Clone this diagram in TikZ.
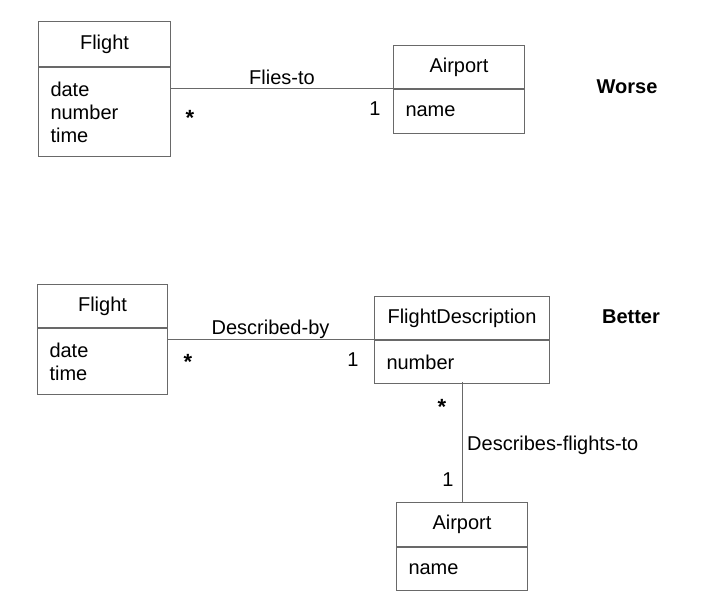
\documentclass[tikz,border=0pt]{standalone}
\usepackage{fontspec}
\setmainfont{Liberation Sans}
\newcommand\diafs{\fontsize{20}{23}\selectfont}
\definecolor{linec}{RGB}{105,105,105}
\begin{document}
\begin{tikzpicture}[x=1pt,y=-1pt,
  hdr/.style={draw=linec, line width=1pt, inner sep=0pt, anchor=north west, font=\diafs},
  attrs/.style={draw=linec, line width=1pt, inner xsep=12pt, inner ysep=0pt, anchor=north west, align=left, font=\diafs},
  conn/.style={draw=linec, line width=1pt},
  lbl/.style={font=\diafs, inner sep=0pt},
  star/.style={font=\fontsize{22}{24}\selectfont\bfseries, inner sep=0pt},
  ttl/.style={font=\diafs\bfseries, inner sep=0pt}]
\useasboundingbox (0,0) rectangle (715,601);
% ---- Worse ----
\node[hdr, minimum width=132pt, minimum height=45pt] (f1h) at (38,21) {Flight};
\node[attrs, minimum width=132pt, minimum height=89pt, text width=108pt] (f1b) at (f1h.south west) {date\\number\\time};
\node[hdr, minimum width=131pt, minimum height=43pt] (a1h) at (393,45) {Airport};
\node[attrs, minimum width=131pt, minimum height=44pt, text width=107pt] (a1b) at (a1h.south west) {name};
\draw[conn] (a1h.south west -| f1b.east) -- (a1h.south west);
\node[lbl] (l1) at (282,77) {Flies-to};
\node[star] (m1a) at (190,118) {*};
\node[lbl] (m1b) at (375,109) {1};
\node[ttl] (worse) at (627,87) {Worse};
% ---- Better ----
\node[hdr, minimum width=130pt, minimum height=43pt] (f2h) at (37,284) {Flight};
\node[attrs, minimum width=130pt, minimum height=66pt, text width=106pt] (f2b) at (f2h.south west) {date\\time};
\node[hdr, minimum width=175pt, minimum height=43pt] (fdh) at (374,296) {FlightDescription};
\node[attrs, minimum width=175pt, minimum height=43pt, text width=151pt] (fdb) at (fdh.south west) {number};
\draw[conn] (fdh.south west -| f2b.east) -- (fdh.south west);
\node[lbl] (l2) at (270.5,329) {Described-by};
\node[star] (m2a) at (188,362) {*};
\node[lbl] (m2b) at (353,360) {1};
\node[hdr, minimum width=131pt, minimum height=44pt] (a2h) at (396,502) {Airport};
\node[attrs, minimum width=131pt, minimum height=43pt, text width=107pt] (a2b) at (a2h.south west) {name};
\coordinate (vtop) at (462,382);
\draw[conn] (vtop) -- (vtop |- a2h.north);
\node[star] (m3a) at (442,407) {*};
\node[lbl] (m3b) at (448,480) {1};
\node[lbl, anchor=west] (l3) at (467,445) {Describes-flights-to};
\node[ttl] (better) at (631,317) {Better};
\end{tikzpicture}
\end{document}
